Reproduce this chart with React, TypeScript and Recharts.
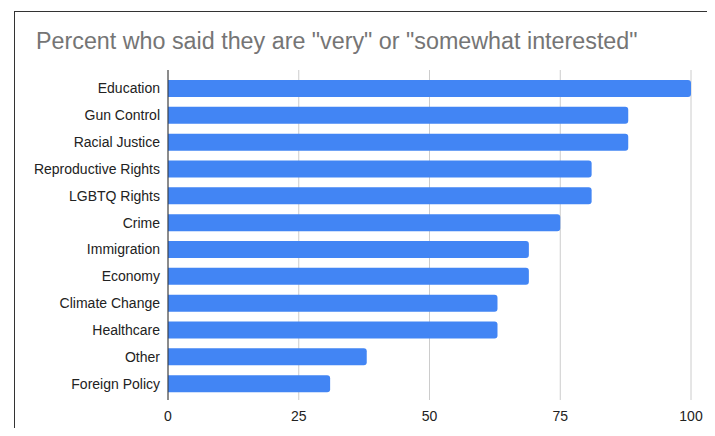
import { Bar, BarChart, CartesianGrid, XAxis, YAxis } from "recharts";

const topics = [
  "Education",
  "Gun Control",
  "Racial Justice",
  "Reproductive Rights",
  "LGBTQ Rights",
  "Crime",
  "Immigration",
  "Economy",
  "Climate Change",
  "Healthcare",
  "Other",
  "Foreign Policy",
];

const interested = [100, 88, 88, 81, 81, 75, 69, 69, 63, 63, 38, 31];

const xTicks = [0, 25, 50, 75, 100];

const chartData = topics.map((topic, i) => ({ topic, value: interested[i] }));

const font = "'Liberation Sans', Arial, sans-serif";

export default function App() {
  return (
    <div
      style={{
        position: "relative",
        width: 715,
        height: 436,
        margin: -8,
        overflow: "hidden",
        background: "#fff",
        fontFamily: font,
      }}
    >
      <div
        style={{
          position: "absolute",
          left: 14,
          top: 11,
          width: 696,
          height: 440,
          border: "1px solid #333",
        }}
      />
      <div
        style={{
          position: "absolute",
          left: 36,
          top: 28,
          fontSize: 23.3,
          lineHeight: "26px",
          color: "#757575",
          whiteSpace: "nowrap",
        }}
      >
        Percent who said they are "very" or "somewhat interested"
      </div>
      <div style={{ position: "absolute", left: 0, top: 0 }}>
        <BarChart
          width={715}
          height={436}
          data={chartData}
          layout="vertical"
          margin={{ top: 70, right: 24, bottom: 6, left: 8 }}
          barSize={17}
        >
          <CartesianGrid horizontal={false} stroke="#cccccc" />
          <XAxis
            type="number"
            domain={[0, 100]}
            ticks={xTicks}
            axisLine={false}
            tickLine={false}
            tickMargin={5}
            height={30}
            tick={{ fill: "#222", fontSize: 14, fontFamily: font }}
          />
          <YAxis
            type="category"
            dataKey="topic"
            width={160}
            padding={{ top: 5, bottom: 3 }}
            axisLine={{ stroke: "#333" }}
            tickLine={false}
            interval={0}
            tick={{ fill: "#222", fontSize: 14, fontFamily: font }}
          />
          <Bar
            dataKey="value"
            fill="#4285F4"
            radius={[0, 3, 3, 0]}
            isAnimationActive={false}
          />
        </BarChart>
      </div>
    </div>
  );
}
